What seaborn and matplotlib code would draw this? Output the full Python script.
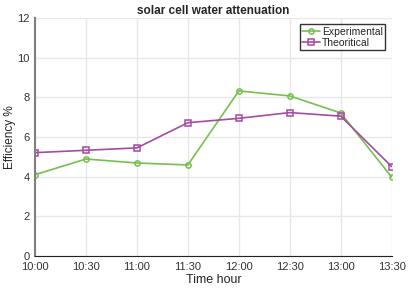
import pandas as pd
import seaborn as sns
import matplotlib.pyplot as plt

times = ['10:00', '10:30', '11:00', '11:30', '12:00', '12:30', '13:00', '13:30']
experimental = [4.10, 4.89, 4.69, 4.59, 8.32, 8.07, 7.21, 3.98]
theoritical = [5.21, 5.33, 5.45, 6.72, 6.94, 7.23, 7.05, 4.51]

if __name__ == '__main__':
    sns.set_style('white')
    plt.rcParams['font.family'] = ['Liberation Sans', 'DejaVu Sans']

    df = pd.DataFrame({
        'pos': list(range(len(times))) * 2,
        'value': experimental + theoritical,
        'series': ['Experimental'] * len(times) + ['Theoritical'] * len(times),
    })

    fig = plt.figure(figsize=(4.09, 2.89), dpi=100)
    ax = fig.add_axes([0.0856, 0.114, 0.872, 0.824])
    sns.lineplot(data=df, x='pos', y='value', hue='series', style='series',
                 palette=['#76c04e', '#a54ba5'], markers=['o', 's'], dashes=False,
                 linewidth=1.2, ax=ax, legend=False)

    # open markers in the line colour (seaborn makes edges white)
    for line in ax.get_lines():
        c = line.get_color()
        line.set_markersize(3.8)
        line.set_markerfacecolor('none')
        line.set_markeredgecolor(c)
        line.set_markeredgewidth(1.1)

    ax.set_xlim(0, len(times) - 1)
    ax.set_ylim(0, 12)
    ax.set_xticks(range(len(times)))
    ax.set_xticklabels(times)
    ax.set_yticks(range(0, 13, 2))
    ax.grid(True, color='#e8e8e8', linewidth=1)
    ax.tick_params(direction='in', length=3, labelsize=8, labelcolor='#333333', color='#777777')
    ax.tick_params(axis='x', pad=4)
    ax.tick_params(axis='y', pad=4)
    for s in ['top', 'right']:
        ax.spines[s].set_visible(False)
    ax.spines['left'].set_color('#808080')
    ax.spines['left'].set_linewidth(1.5)
    ax.spines['bottom'].set_color('#222222')

    ax.set_title('solar cell water attenuation', fontsize=8.5, fontweight='bold', pad=3)
    ax.set_xlabel('Time hour', fontsize=9, labelpad=2)
    ax.set_ylabel('Efficiency %', fontsize=8.5)
    ax.yaxis.set_label_coords(-0.052, 0.5)

    leg = ax.legend(ax.get_lines(), ['Experimental', 'Theoritical'],
                    loc='upper right', fontsize=7.5, frameon=True, fancybox=False,
                    edgecolor='black', handlelength=1.7, handletextpad=0.2,
                    borderpad=0.25, labelspacing=0.1, borderaxespad=0.6)
    leg.get_frame().set_linewidth(1)

    plt.savefig('out.png', dpi=100)
